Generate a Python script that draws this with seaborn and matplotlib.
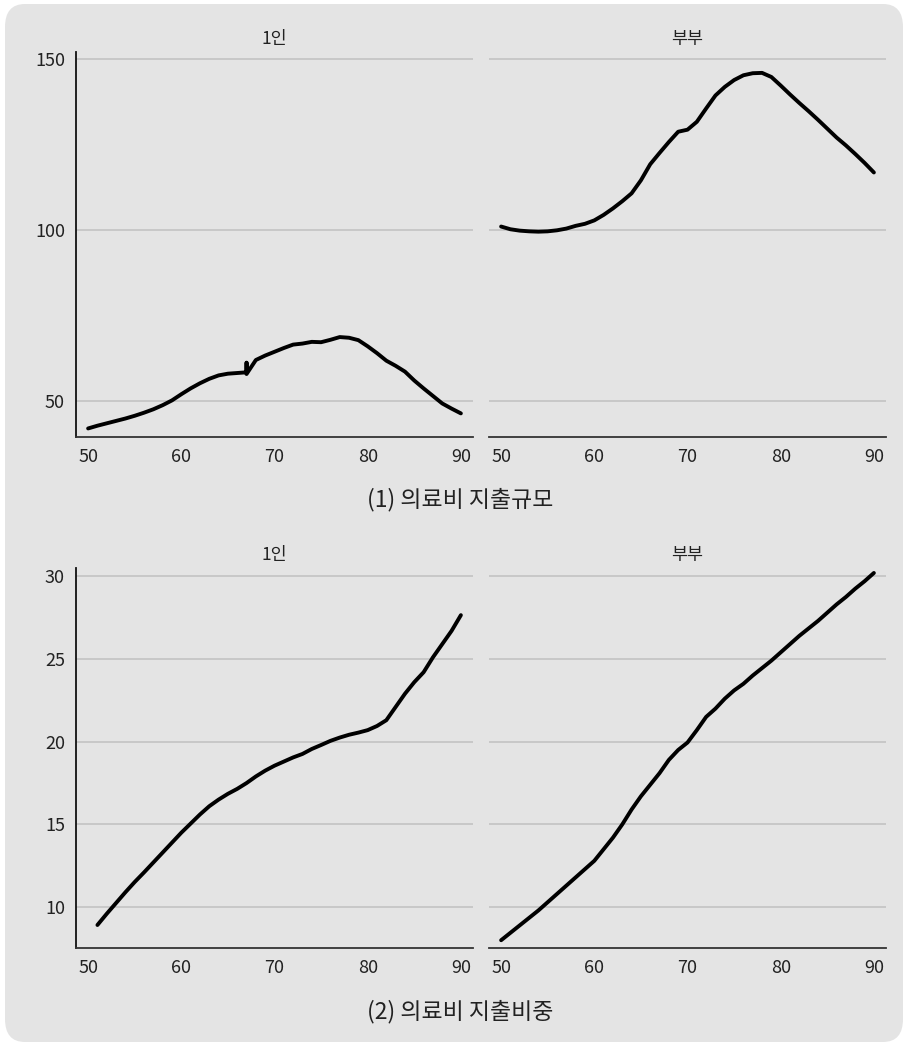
import matplotlib
matplotlib.use("Agg")
import matplotlib.pyplot as plt
from matplotlib.patches import FancyBboxPatch
import pandas as pd
import seaborn as sns

# ---- data: household medical spending by age of household head ----
# (1) spending level
spend_single_age = list(range(50, 67)) + [67, 67, 67] + list(range(68, 91))
spend_single = [42.0, 42.8, 43.5, 44.2, 44.9, 45.7, 46.6, 47.6, 48.8, 50.2,
                52.0, 53.7, 55.2, 56.5, 57.5, 58.0, 58.2,
                58.4, 61.2, 57.9,
                62.0, 63.3, 64.4, 65.5, 66.5, 66.8, 67.3, 67.2, 67.9, 68.7,
                68.5, 67.8, 66.0, 64.0, 61.8, 60.3, 58.6, 56.0, 53.7, 51.5,
                49.3, 47.8, 46.4]

spend_couple_age = list(range(50, 91))
spend_couple = [101.0, 100.2, 99.8, 99.6, 99.5, 99.6, 99.9, 100.4, 101.2, 101.8,
                102.8, 104.4, 106.3, 108.4, 110.7, 114.5, 119.2, 122.5, 125.7, 128.7,
                129.3, 131.6, 135.5, 139.3, 141.8, 143.8, 145.2, 145.8, 145.9, 144.7,
                142.2, 139.6, 137.1, 134.7, 132.2, 129.6, 127.0, 124.7, 122.2, 119.6,
                116.8]

# (2) spending share
share_single_age = list(range(51, 91))
share_single = [8.92, 9.6, 10.25, 10.9, 11.52, 12.1, 12.7, 13.3, 13.9, 14.5,
                15.05, 15.6, 16.1, 16.5, 16.85, 17.15, 17.5, 17.9, 18.25, 18.55,
                18.8, 19.05, 19.26, 19.56, 19.8, 20.05, 20.25, 20.42, 20.55, 20.7,
                20.95, 21.3, 22.1, 22.9, 23.6, 24.2, 25.1, 25.9, 26.7, 27.65]

share_couple_age = list(range(50, 91))
share_couple = [8.0, 8.45, 8.9, 9.35, 9.8, 10.3, 10.8, 11.3, 11.8, 12.3,
                12.8, 13.5, 14.2, 15.0, 15.9, 16.7, 17.4, 18.1, 18.9, 19.5,
                19.95, 20.7, 21.5, 22.0, 22.6, 23.1, 23.5, 24.0, 24.45, 24.9,
                25.4, 25.9, 26.4, 26.85, 27.3, 27.8, 28.3, 28.75, 29.25, 29.7,
                30.2]

panel_titles = ["1인", "부부"]
row_titles = ["(1) 의료비 지출규모", "(2) 의료비 지출비중"]
x_ticks = [50, 60, 70, 80, 90]
spend_ticks = [50, 100, 150]
share_ticks = [10, 15, 20, 25, 30]

# ---- style ----
sns.set_style("white")
BG = "#e4e4e4"
plt.rcParams["font.family"] = ["Noto Sans CJK KR", "DejaVu Sans"]
plt.rcParams["axes.unicode_minus"] = False

W, H = 907, 1046
fig = plt.figure(figsize=(W / 100, H / 100), dpi=100, facecolor="white")

# rounded grey card behind everything
card = FancyBboxPatch((5 / W, 4 / H), (W - 9) / W, (H - 8) / H,
                      boxstyle="round,pad=0,rounding_size=0.022",
                      transform=fig.transFigure, facecolor=BG,
                      edgecolor="none", zorder=-10)
fig.patches.append(card)


def px_axes(x0, x1, y0, y1):
    return fig.add_axes([x0 / W, 1 - y1 / H, (x1 - x0) / W, (y1 - y0) / H])


panels = [
    (spend_single_age, spend_single, 76, 473, 52, 437, (39.5, 152), spend_ticks, True, 0),
    (spend_couple_age, spend_couple, 489, 886, 52, 437, (39.5, 152), spend_ticks, False, 1),
    (share_single_age, share_single, 76, 473, 568, 948, (7.53, 30.5), share_ticks, True, 0),
    (share_couple_age, share_couple, 489, 886, 568, 948, (7.53, 30.5), share_ticks, False, 1),
]

for ages, vals, x0, x1, y0, y1, ylim, yt, first, ti in panels:
    ax = px_axes(x0, x1, y0, y1)
    ax.set_facecolor(BG)
    df = pd.DataFrame({"age": ages, "value": vals})
    sns.lineplot(data=df, x="age", y="value", ax=ax, color="black",
                 linewidth=2.8, estimator=None, sort=False)
    ax.set_xlim(48.7, 91.3)
    ax.set_ylim(*ylim)
    ax.set_xticks(x_ticks)
    ax.set_yticks(yt)
    ax.set_xlabel("")
    ax.set_ylabel("")
    ax.set_axisbelow(True)
    ax.yaxis.grid(True, color="#c3c3c3", linewidth=1.2)
    ax.xaxis.grid(False)
    for s in ["top", "right"]:
        ax.spines[s].set_visible(False)
    ax.spines["bottom"].set_color("#333333")
    ax.spines["bottom"].set_linewidth(1.3)
    ax.tick_params(axis="x", direction="out", length=5, width=1.1,
                   color="#333333", labelsize=13, pad=3, labelcolor="#222222")
    if first:
        ax.spines["left"].set_color("#111111")
        ax.spines["left"].set_linewidth(1.3)
        ax.tick_params(axis="y", direction="out", length=5, width=1.1,
                       color="#333333", labelsize=13, pad=3, labelcolor="#222222")
    else:
        ax.spines["left"].set_visible(False)
        ax.tick_params(axis="y", left=False, labelleft=False)
    ax.set_title(panel_titles[ti], fontsize=12.5, pad=6, color="#222222")

fig.text(460 / W, 1 - 500 / H, row_titles[0], ha="center", va="center",
         fontsize=16.5, color="#222222")
fig.text(460 / W, 1 - 1012 / H, row_titles[1], ha="center", va="center",
         fontsize=16.5, color="#222222")

fig.savefig("out.png", dpi=100, facecolor="white")
